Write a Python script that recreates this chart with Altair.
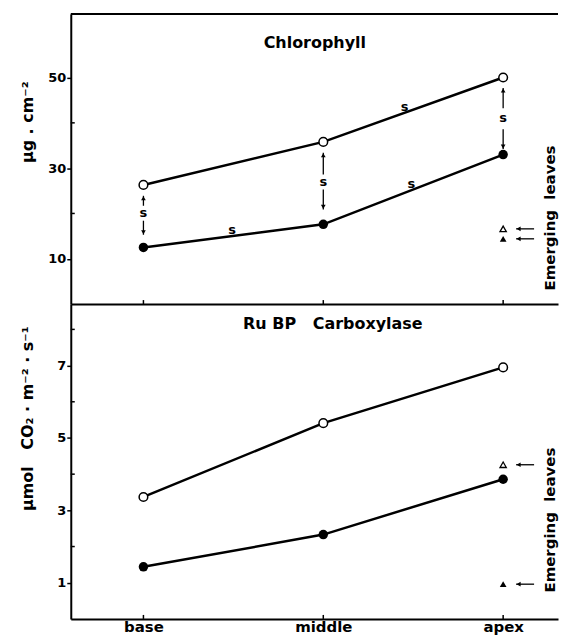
import altair as alt
import pandas as pd

FONT = "DejaVu Sans"

# ---------------- data ----------------
positions = ["base", "middle", "apex"]
xpos = [0, 1, 2]
X_DOMAIN = [-0.404, 2.305]

# Chlorophyll (µg.cm-2)
chl_open = [26.3, 35.8, 50.0]
chl_filled = [12.5, 17.6, 33.0]
chl_emerg_open = 16.6
chl_emerg_filled = 14.4
CHL_DOMAIN = [0, 64]
chl_ticks = [10, 30, 50]
chl_minor = [20, 40]

# significance arrows (Chlorophyll)
chl_sig_x = [0, 1, 2]
chl_sig_s = [20.1, 27.0, 41.0]
chl_up_tail = [21.7, 28.6, 43.2]
chl_up_tip = [23.9, 33.4, 47.7]
chl_dn_tail = [18.4, 25.3, 38.6]
chl_dn_tip = [15.3, 20.9, 34.2]
chl_line_s_x = [0.493, 1.452, 1.49]
chl_line_s_y = [16.3, 43.4, 26.5]

# RuBP carboxylase (µmol CO2 m-2 s-1)
rubp_open = [3.37, 5.41, 6.95]
rubp_filled = [1.44, 2.33, 3.86]
rubp_emerg_open = 4.26
rubp_emerg_filled = 0.96
RUBP_DOMAIN = [0, 8.7]
rubp_ticks = [1, 3, 5, 7]
rubp_minor = [2, 4, 6, 8]

emerg_arrow_x = [2.072, 2.172]
emerg_text_x = 2.26

W = 489
H_TOP = 291
H_BOT = 316


def xaxis(labels):
    if labels:
        return alt.Axis(values=xpos, labelExpr="['base','middle','apex'][datum.value]",
                        labelFont=FONT, labelFontWeight="bold", labelFontSize=15,
                        labelColor="black", labelPadding=1, ticks=False, title=None,
                        domainColor="black", domainWidth=2, grid=False)
    return alt.Axis(values=xpos, labels=False, ticks=False, title=None,
                    domainColor="black", domainWidth=2, grid=False)


def yaxis(values, title, title_y):
    return alt.Axis(values=values, labelFont=FONT, labelFontWeight="bold", labelFontSize=13,
                    labelColor="black", labelPadding=1, tickSize=4, tickWidth=1.5,
                    tickColor="black", domainColor="black", domainWidth=2, grid=False,
                    title=title, titleFont=FONT, titleFontWeight="bold", titleFontSize=16,
                    titleColor="black", titleAngle=270, titleX=-43, titleY=title_y,
                    titleAlign="center", titleBaseline="middle")


def panel(opn, fil, e_open, e_fill, domain, ticks, minor, title, ytitle, ytitle_y,
          labels, height, title_xy, emerg_text_y, sig=None):
    X = lambda f: alt.X(f, type="quantitative",
                        scale=alt.Scale(domain=X_DOMAIN, nice=False, zero=False),
                        axis=xaxis(labels))
    X2 = lambda f: alt.X2(f)
    Y = lambda f: alt.Y(f, type="quantitative",
                        scale=alt.Scale(domain=domain, nice=False, zero=False),
                        axis=yaxis(ticks, ytitle, ytitle_y))

    df = pd.DataFrame({
        "x": xpos * 2,
        "y": opn + fil,
        "s": ["open"] * 3 + ["filled"] * 3,
    })
    lines = alt.Chart(df).mark_line(color="black", strokeWidth=2.5).encode(
        x=X("x"), y=Y("y"), detail="s:N")
    pts_open = alt.Chart(df[df.s == "open"]).mark_point(
        shape="circle", filled=True, fill="white", stroke="black", strokeWidth=1.5,
        size=75, opacity=1).encode(x=X("x"), y=Y("y"))
    pts_fill = alt.Chart(df[df.s == "filled"]).mark_point(
        shape="circle", filled=True, color="black", size=90, opacity=1).encode(
        x=X("x"), y=Y("y"))

    edf = pd.DataFrame({"x": [2, 2], "y": [e_open, e_fill], "k": ["open", "filled"]})
    tri_open = alt.Chart(edf[edf.k == "open"]).mark_point(
        shape="triangle-up", filled=True, fill="white", stroke="black", strokeWidth=1.3,
        size=40, opacity=1).encode(x=X("x"), y=Y("y"))
    tri_fill = alt.Chart(edf[edf.k == "filled"]).mark_point(
        shape="triangle-up", filled=True, color="black", size=45, opacity=1).encode(
        x=X("x"), y=Y("y"))

    adf = pd.DataFrame({"x": [emerg_arrow_x[0]] * 2, "x2": [emerg_arrow_x[1]] * 2,
                        "y": [e_open, e_fill]})
    arr = alt.Chart(adf).mark_rule(color="black", strokeWidth=1.3).encode(
        x=X("x"), x2=X2("x2"), y=Y("y"))
    arr_h = alt.Chart(adf).mark_point(shape="triangle-left", filled=True, color="black",
                                      size=22, opacity=1, xOffset=2.5).encode(
        x=X("x"), y=Y("y"))

    frame_df = pd.DataFrame({"x": [X_DOMAIN[0]], "x2": [X_DOMAIN[1]], "y": [domain[1]]})
    layers = [lines, pts_open, pts_fill, tri_open, tri_fill, arr, arr_h]
    if not labels:
        layers.append(alt.Chart(frame_df).mark_rule(color="black", strokeWidth=2).encode(
            x=X("x"), x2=X2("x2"), y=Y("y")))

    # inward minor y ticks
    mdf = pd.DataFrame({"x": [X_DOMAIN[0]] * len(minor), "y": minor})
    layers.append(alt.Chart(mdf).mark_tick(orient="horizontal", size=4, thickness=1.5,
                                           color="black", xOffset=2, opacity=1).encode(
        x=X("x"), y=Y("y")))
    # inward x ticks
    xdf = pd.DataFrame({"x": xpos, "y": [domain[0]] * 3})
    layers.append(alt.Chart(xdf).mark_tick(orient="vertical", size=4, thickness=1.5,
                                           color="black", yOffset=-2, opacity=1).encode(
        x=X("x"), y=Y("y")))

    tdf = pd.DataFrame({"x": [title_xy[0]], "y": [title_xy[1]], "t": [title]})
    layers.append(alt.Chart(tdf).mark_text(font=FONT, fontWeight="bold", fontSize=16,
                                           color="black").encode(
        x=X("x"), y=Y("y"), text="t:N"))
    ldf = pd.DataFrame({"x": [emerg_text_x], "y": [emerg_text_y],
                        "t": ["Emerging\u00a0\u00a0leaves"]})
    layers.append(alt.Chart(ldf).mark_text(font=FONT, fontWeight="bold", fontSize=15,
                                           angle=270, color="black", align="center",
                                           baseline="middle").encode(
        x=X("x"), y=Y("y"), text="t:N"))

    if sig is not None:
        sdf = pd.DataFrame({"x": chl_sig_x, "s": chl_sig_s, "ut": chl_up_tail,
                            "up": chl_up_tip, "dt": chl_dn_tail, "dn": chl_dn_tip,
                            "lab": ["s"] * 3})
        layers.append(alt.Chart(sdf).mark_rule(color="black", strokeWidth=1.3).encode(
            x=X("x"), y=Y("ut"), y2=alt.Y2("up")))
        layers.append(alt.Chart(sdf).mark_rule(color="black", strokeWidth=1.3).encode(
            x=X("x"), y=Y("dt"), y2=alt.Y2("dn")))
        layers.append(alt.Chart(sdf).mark_point(shape="triangle-up", filled=True,
                                                color="black", size=22, opacity=1,
                                                yOffset=2.5).encode(x=X("x"), y=Y("up")))
        layers.append(alt.Chart(sdf).mark_point(shape="triangle-down", filled=True,
                                                color="black", size=22, opacity=1,
                                                yOffset=-2.5).encode(x=X("x"), y=Y("dn")))
        layers.append(alt.Chart(sdf).mark_text(font=FONT, fontWeight="bold", fontSize=13,
                                               color="black", baseline="middle").encode(
            x=X("x"), y=Y("s"), text="lab:N"))
        ls = pd.DataFrame({"x": chl_line_s_x, "y": chl_line_s_y, "lab": ["s"] * 3})
        layers.append(alt.Chart(ls).mark_text(font=FONT, fontWeight="bold", fontSize=13,
                                              color="black", baseline="middle").encode(
            x=X("x"), y=Y("y"), text="lab:N"))

    return alt.layer(*layers).properties(width=W, height=height)


top = panel(chl_open, chl_filled, chl_emerg_open, chl_emerg_filled, CHL_DOMAIN,
            chl_ticks, chl_minor, "Chlorophyll", "\u00b5g\u00a0.\u00a0cm\u207b\u00b2", 108,
            False, H_TOP, (0.953, 57.7), 19.0, sig=True)
bottom = panel(rubp_open, rubp_filled, rubp_emerg_open, rubp_emerg_filled, RUBP_DOMAIN,
               rubp_ticks, rubp_minor, "Ru\u00a0BP\u00a0\u00a0\u00a0Carboxylase",
               "\u00b5mol\u00a0\u00a0\u00a0CO\u2082\u00a0\u00b7\u00a0m\u207b\u00b2\u00a0\u00b7\u00a0s\u207b\u00b9",
               114.5, True, H_BOT, (1.053, 8.15), 2.73)

chart = alt.vconcat(top, bottom, spacing=0, bounds="flush").properties(
    padding={"left": 11, "top": 4, "right": 0, "bottom": 0}
).configure_view(stroke=None)

chart.save("out.html", embed_options={"renderer": "svg", "actions": False})
